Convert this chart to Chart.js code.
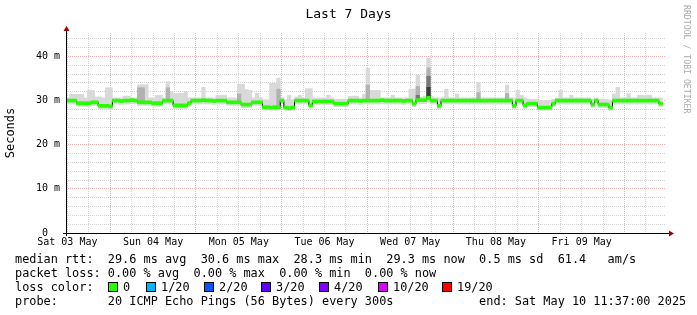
<!DOCTYPE html>
<html>
<head>
<meta charset="utf-8">
<script src="https://cdn.jsdelivr.net/npm/chart.js@4.4.0/dist/chart.umd.min.js"></script>
<style>
  html, body { margin: 0; padding: 0; background: #fff; }
  #wrap { position: relative; width: 697px; height: 315px; overflow: hidden;
          font-family: 'DejaVu Sans Mono', monospace; color: #000; }
  #chart { position: absolute; left: 0; top: 0; }
  .title { position: absolute; left: 0; top: 6px; width: 697px; text-align: center;
           font-size: 13px; line-height: 15px; }
  .leg { position: absolute; white-space: pre; font-size: 11.86px; line-height: 14px; }
  .box { position: absolute; width: 10px; height: 10px; box-sizing: border-box; border: 1px solid #000; }
  .mark { position: absolute; left: 682px; top: 5px; writing-mode: vertical-rl;
          font-size: 8.2px; line-height: 9px; color: #aaa; white-space: pre; }
</style>
</head>
<body>
<div id="wrap">
  <canvas id="chart" width="697" height="315"></canvas>
  <div class="title">Last 7 Days</div>
  <div class="mark">RRDTOOL / TOBI OETIKER</div>
  <div id="legend"></div>
</div>
<script>
// time axis: hours since Sat 03 May 11:37 (end Sat 10 May 11:37)
const spanHours = 168;
const firstNoon = 23 / 60;           // Sat 03 May 12:00
const dayLabels = ['Sat 03 May', 'Sun 04 May', 'Mon 05 May', 'Tue 06 May', 'Wed 07 May', 'Thu 08 May', 'Fri 09 May'];
const yTicks = [0, 2, 4, 6, 8, 10, 12, 14, 16, 18, 20, 22, 24, 26, 28, 30, 32, 34, 36, 38, 40, 42, 44];
const yMax = 45.3;

// hourly median rtt (ms)
const medianRtt = [
  30.0, 30.0, 30.0, 29.4, 29.4, 29.4, 29.4, 29.6, 29.6, 28.8, 28.8, 28.8,
  28.7, 30.0, 30.0, 29.9, 30.0, 30.0, 30.1, 30.0, 29.6, 29.6, 29.6, 29.6,
  29.4, 29.4, 29.4, 30.0, 30.0, 30.0, 28.9, 28.9, 28.9, 28.9, 29.4, 30.0,
  30.0, 30.0, 30.1, 30.0, 30.0, 29.9, 30.0, 30.0, 30.0, 29.6, 29.6, 29.6,
  29.6, 29.1, 29.1, 29.1, 29.6, 29.6, 29.6, 28.5, 28.5, 28.4, 28.5, 28.5,
  30.0, 28.4, 28.3, 28.4, 30.0, 30.0, 30.0, 30.0, 28.9, 29.8, 29.8, 29.8,
  29.8, 29.8, 29.8, 29.3, 29.3, 29.3, 29.3, 30.0, 30.0, 30.0, 29.9, 30.0,
  30.0, 30.0, 30.0, 30.0, 30.1, 30.0, 30.0, 30.0, 30.0, 30.0, 29.9, 30.0,
  30.0, 29.3, 30.1, 30.1, 30.1, 30.6, 30.0, 30.0, 28.8, 30.0, 30.0, 30.0,
  30.0, 30.0, 30.0, 30.0, 30.0, 30.0, 30.0, 30.0, 30.0, 30.0, 30.0, 30.0,
  30.0, 30.0, 30.0, 30.0, 30.0, 28.8, 30.0, 30.0, 28.9, 29.3, 29.3, 29.3,
  28.4, 28.4, 28.4, 28.4, 29.3, 30.0, 30.0, 30.0, 30.0, 30.0, 30.0, 30.0,
  30.0, 30.0, 30.0, 29.1, 30.0, 29.1, 29.1, 29.1, 28.4, 30.0, 30.0, 30.0,
  30.0, 30.0, 30.0, 30.0, 30.0, 30.0, 30.0, 30.0, 30.0, 30.0, 29.3, null
];

// smoke: lowest and highest ping of each hour
const smokeMin = [
  29.2, 29.2, 29.2, 28.7, 28.7, 28.7, 28.7, 28.9, 28.9, 28.1, 28.1, 28.1,
  28.0, 29.2, 29.2, 29.1, 29.2, 29.2, 29.3, 29.2, 28.9, 28.9, 28.9, 28.9,
  28.7, 28.7, 28.7, 29.2, 29.2, 29.2, 28.2, 28.2, 28.2, 28.2, 28.7, 29.2,
  29.2, 29.2, 29.3, 29.2, 29.2, 29.1, 29.2, 29.2, 29.2, 28.9, 28.9, 28.9,
  28.9, 28.4, 28.4, 28.4, 28.9, 28.9, 28.9, 27.9, 27.9, 27.8, 27.9, 27.9,
  29.2, 27.8, 27.7, 27.8, 29.2, 29.2, 29.2, 29.2, 28.2, 29.1, 29.1, 29.1,
  29.1, 29.1, 29.1, 28.6, 28.6, 28.6, 28.6, 29.2, 29.2, 29.2, 29.1, 29.2,
  29.2, 29.2, 29.2, 29.2, 29.3, 29.2, 29.2, 29.2, 29.2, 29.2, 29.1, 29.2,
  29.2, 28.6, 29.3, 29.3, 29.3, 29.6, 29.2, 29.2, 28.1, 29.2, 29.2, 29.2,
  29.2, 29.2, 29.2, 29.2, 29.2, 29.2, 29.2, 29.2, 29.2, 29.2, 29.2, 29.2,
  29.2, 29.2, 29.2, 29.2, 29.2, 28.1, 29.2, 29.2, 28.2, 28.6, 28.6, 28.6,
  27.8, 27.8, 27.8, 27.8, 28.6, 29.2, 29.2, 29.2, 29.2, 29.2, 29.2, 29.2,
  29.2, 29.2, 29.2, 28.4, 29.2, 28.4, 28.4, 28.4, 27.8, 29.2, 29.2, 29.2,
  29.2, 29.2, 29.2, 29.2, 29.2, 29.2, 29.2, 29.2, 29.2, 29.2, 28.6, null
];
const smokeMax = [
  30.6, 31.4, 31.4, 31.4, 31.4, 30.6, 32.3, 32.3, 30.8, 30.8, 30.6, 32.9,
  32.9, 30.6, 30.6, 30.6, 31.0, 31.0, 30.6, 30.6, 33.6, 33.6, 33.6, 30.6,
  30.6, 31.2, 31.2, 30.6, 34.3, 32.0, 31.6, 31.6, 31.6, 32.0, 30.6, 30.6,
  30.6, 30.6, 33.0, 30.6, 30.6, 30.6, 31.2, 31.2, 31.2, 30.6, 30.6, 30.6,
  33.7, 33.7, 32.5, 32.3, 30.6, 31.7, 30.6, 30.2, 30.2, 33.9, 33.9, 35.1,
  30.6, 30.2, 31.2, 30.2, 30.8, 31.2, 30.6, 32.7, 32.7, 30.6, 30.6, 30.6,
  30.6, 31.2, 30.6, 30.3, 30.3, 30.3, 30.3, 31.0, 31.0, 31.0, 30.6, 31.4,
  37.3, 32.3, 32.3, 32.3, 30.6, 30.6, 30.6, 31.2, 30.6, 30.6, 30.6, 30.6,
  32.6, 32.6, 35.8, 30.8, 31.0, 39.6, 30.9, 30.6, 30.6, 30.6, 32.6, 30.6,
  30.6, 31.5, 30.6, 30.6, 30.6, 30.6, 30.6, 34.1, 30.6, 30.6, 30.6, 30.6,
  30.6, 30.6, 30.6, 33.5, 30.6, 30.6, 32.3, 31.2, 30.6, 30.3, 30.3, 30.3,
  30.0, 30.0, 30.0, 30.0, 30.3, 30.6, 32.3, 30.6, 30.6, 31.2, 30.6, 30.6,
  30.6, 30.6, 30.6, 30.3, 30.6, 30.3, 30.3, 30.3, 30.0, 31.5, 33.0, 30.6,
  30.6, 31.6, 30.6, 30.6, 31.2, 31.2, 31.2, 31.2, 30.6, 30.6, 30.6, null
];

// denser smoke layers, only where they rise above the median
const innerBins = [20, 21, 28, 48, 59, 84, 98, 101, 115, 123];
const innerTop  = [32.9, 32.9, 32.9, 31.5, 32.6, 33.5, 33.2, 37.4, 31.8, 31.6];
const coreBins = [98, 101];
const coreTop  = [31.2, 35.5];
const darkBins = [101];
const darkTop  = [33.0];

const FONT = "'DejaVu Sans Mono', monospace";
const GREEN = '#26ff00';
const MINOR = 'rgba(175, 175, 175, 0.55)';
const MAJOR = 'rgba(230, 100, 100, 0.5)';

function bandData(bins, lows, highs) {
  const out = [];
  bins.forEach((b, k) => {
    if (lows[k] == null || highs[k] == null) return;
    out.push({ x: b + 0.5, y: [lows[k], highs[k]] });
  });
  return out;
}
const allBins = medianRtt.map((_, i) => i);

function layer(bins, tops, color, order) {
  return {
    type: 'bar',
    data: bandData(bins, bins.map(b => medianRtt[b]), tops),
    backgroundColor: color,
    order: order
  };
}

const axisArrows = {
  id: 'axisArrows',
  afterDatasetsDraw(chart) {
    const { ctx, chartArea: a } = chart;
    ctx.save();
    ctx.strokeStyle = '#000';
    ctx.lineWidth = 1;
    ctx.beginPath();
    ctx.moveTo(a.left - 3, a.bottom + 0.5);
    ctx.lineTo(a.right + 4, a.bottom + 0.5);
    ctx.moveTo(a.left + 0.5, a.bottom + 3);
    ctx.lineTo(a.left + 0.5, a.top - 3);
    ctx.stroke();
    ctx.fillStyle = '#a00000';
    ctx.beginPath();
    ctx.moveTo(a.right + 3, a.bottom - 2.5);
    ctx.lineTo(a.right + 8, a.bottom + 0.5);
    ctx.lineTo(a.right + 3, a.bottom + 3.5);
    ctx.fill();
    ctx.beginPath();
    ctx.moveTo(a.left - 2.5, a.top - 2);
    ctx.lineTo(a.left + 0.5, a.top - 7);
    ctx.lineTo(a.left + 3.5, a.top - 2);
    ctx.fill();
    ctx.restore();
  }
};

new Chart(document.getElementById('chart'), {
  type: 'bar',
  data: {
    datasets: [
      {
        type: 'bar',
        data: bandData(allBins, smokeMin, smokeMax),
        backgroundColor: '#d9d9d9',
        order: 6
      },
      layer(innerBins, innerTop, '#b2b2b2', 5),
      layer(coreBins, coreTop, '#787878', 4),
      layer(darkBins, darkTop, '#3c3c3c', 3),
      {
        type: 'line',
        data: medianRtt.map((v, i) => ({ x: i + 0.5, y: v })),
        borderColor: '#000',
        borderWidth: 1,
        pointRadius: 0,
        stepped: 'middle',
        fill: false,
        order: 2
      },
      {
        type: 'bar',
        data: bandData(allBins, medianRtt.map(v => v == null ? null : v - 0.34),
                                medianRtt.map(v => v == null ? null : v + 0.34)),
        backgroundColor: GREEN,
        order: 1
      }
    ]
  },
  options: {
    responsive: false,
    animation: false,
    events: [],
    datasets: {
      bar: { grouped: false, barPercentage: 1, categoryPercentage: 1, borderWidth: 0 }
    },
    layout: { padding: { left: 0, right: 31, top: 33, bottom: 62 } },
    plugins: {
      legend: { display: false },
      tooltip: { enabled: false },
      title: { display: false }
    },
    scales: {
      x: {
        type: 'linear',
        min: 0,
        max: spanHours,
        offset: false,
        grid: {
          offset: false,
          drawTicks: false,
          color: c => (c.index % 4 === 2 ? MAJOR : MINOR)
        },
        border: { display: false, dash: [1, 1] },
        afterBuildTicks: s => {
          const t = [];
          for (let h = firstNoon; h <= spanHours; h += 6) t.push({ value: h });
          s.ticks = t;
        },
        afterFit: s => { s.height = 20; },
        ticks: {
          autoSkip: false,
          maxRotation: 0,
          padding: 3,
          color: '#000',
          font: { family: FONT, size: 10 },
          callback: (v, i) => (i % 4 === 0 ? dayLabels[i / 4] : '')
        }
      },
      y: {
        min: 0,
        max: yMax,
        grid: {
          drawTicks: false,
          color: c => (c.tick.value % 10 === 0 ? MAJOR : MINOR)
        },
        border: { display: false, dash: [1, 1] },
        afterBuildTicks: s => { s.ticks = yTicks.map(v => ({ value: v })); },
        afterFit: s => { s.width = 66; },
        ticks: {
          autoSkip: false,
          padding: 6,
          color: '#000',
          font: { family: FONT, size: 10 },
          callback: v => (v === 0 ? '0  ' : (v % 10 === 0 ? v + ' m' : ''))
        },
        title: {
          display: true,
          text: 'Seconds',
          color: '#000',
          font: { family: FONT, size: 12 },
          padding: { top: 4, bottom: 0 }
        }
      }
    }
  },
  plugins: [axisArrows]
});

// legend block under the graph
const legendLines = [
  'median rtt:  29.6 ms avg  30.6 ms max  28.3 ms min  29.3 ms now  0.5 ms sd  61.4   am/s',
  'packet loss: 0.00 % avg  0.00 % max  0.00 % min  0.00 % now',
  'loss color:',
  'probe:       20 ICMP Echo Pings (56 Bytes) every 300s            end: Sat May 10 11:37:00 2025'
];
const lossLabels = ['0', '1/20', '2/20', '3/20', '4/20', '10/20', '19/20'];
const lossColors = ['#26ff00', '#00b8ff', '#0059ff', '#5e00ff', '#7e00ff', '#dd00ff', '#ff0000'];
const lossBoxX = [108, 146, 204, 261, 319, 378, 442];

const leg = document.getElementById('legend');
legendLines.forEach((txt, i) => {
  const d = document.createElement('div');
  d.className = 'leg';
  d.style.left = '15px';
  d.style.top = (252 + i * 14) + 'px';
  d.textContent = txt;
  leg.appendChild(d);
});
lossLabels.forEach((lab, i) => {
  const b = document.createElement('div');
  b.className = 'box';
  b.style.left = lossBoxX[i] + 'px';
  b.style.top = '282px';
  b.style.background = lossColors[i];
  leg.appendChild(b);
  const t = document.createElement('div');
  t.className = 'leg';
  t.style.left = (lossBoxX[i] + 15) + 'px';
  t.style.top = '280px';
  t.textContent = lab;
  leg.appendChild(t);
});
</script>
</body>
</html>
